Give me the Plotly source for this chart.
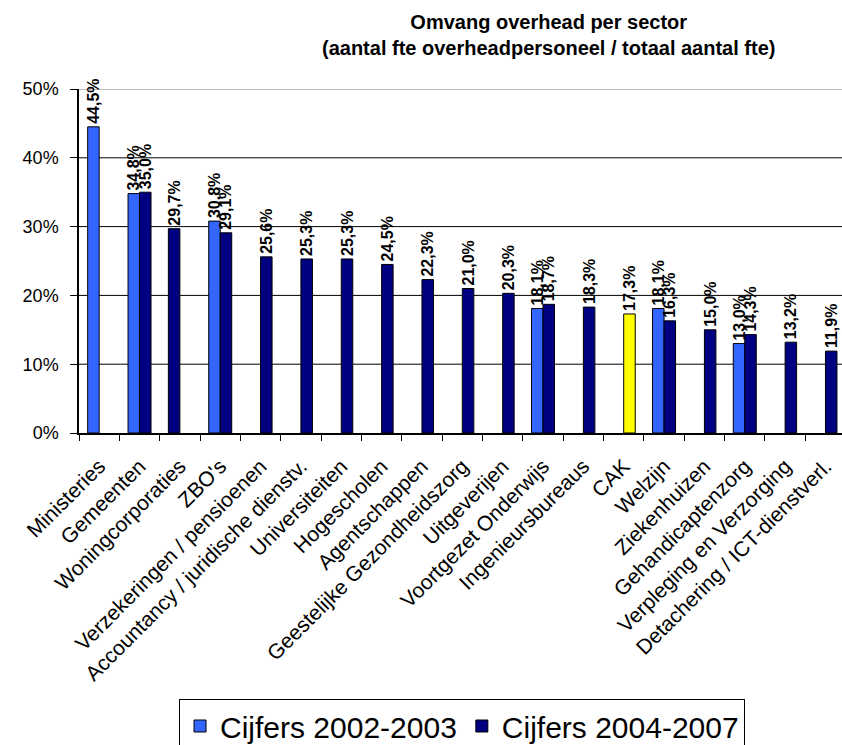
import plotly.graph_objects as go

# Sectors on the category axis
sectors = [
    "Ministeries", "Gemeenten", "Woningcorporaties", "ZBO's",
    "Verzekeringen / pensioenen", "Accountancy / juridische dienstv.",
    "Universiteiten", "Hogescholen", "Agentschappen",
    "Geestelijke Gezondheidszorg", "Uitgeverijen", "Voortgezet Onderwijs",
    "Ingenieursbureaus", "CAK", "Welzijn", "Ziekenhuizen",
    "Gehandicaptenzorg", "Verpleging en Verzorging",
    "Detachering / ICT-dienstverl.",
]

# Overhead share in percent (None = no figure for that period)
cijfers_2002_2003 = [44.5, 34.8, 29.7, 30.8, None, None, None, None, None, None,
                     None, 18.1, None, None, 18.1, None, 13.0, None, None]
cijfers_2004_2007 = [None, 35.0, None, 29.1, 25.6, 25.3, 25.3, 24.5, 22.3, 21.0,
                     20.3, 18.7, 18.3, 17.3, 16.3, 15.0, 14.3, 13.2, 11.9]

y_ticks = [0, 10, 20, 30, 40, 50]
y_tick_labels = [f"{v}%" for v in y_ticks]

LIGHT = "#3366FF"
NAVY = "#000080"
YELLOW = "#FFFF00"

colors_a = [NAVY if s == "Woningcorporaties" else LIGHT for s in sectors]
colors_b = [YELLOW if s == "CAK" else NAVY for s in sectors]

FONT = "Arial, Liberation Sans"


def pct_labels(values):
    return ["" if v is None else f"{v:.1f}%".replace(".", ",") for v in values]


label_font = dict(family=FONT, size=16, color="black", weight="bold")

fig = go.Figure()
fig.add_trace(go.Bar(
    name="Cijfers 2002-2003", x=sectors, y=cijfers_2002_2003,
    marker=dict(color=colors_a, line=dict(color="black", width=1)),
    text=pct_labels(cijfers_2002_2003), textposition="outside",
    textangle=-90, constraintext="none", cliponaxis=False,
    textfont=label_font,
))
fig.add_trace(go.Bar(
    name="Cijfers 2004-2007", x=sectors, y=cijfers_2004_2007,
    marker=dict(color=colors_b, line=dict(color="black", width=1)),
    text=pct_labels(cijfers_2004_2007), textposition="outside",
    textangle=-90, constraintext="none", cliponaxis=False,
    textfont=label_font,
))

# Horizontal gridlines; the top one (plot border at 50%) is light grey
for v in y_ticks[1:]:
    top = v == y_ticks[-1]
    fig.add_shape(type="line", xref="paper", yref="y", x0=0, x1=1, y0=v, y1=v,
                  line=dict(color="#c0c0c0" if top else "black", width=2 if top else 1),
                  layer="below")

# Two-line chart heading
fig.add_annotation(
    text="<b>Omvang overhead per sector</b><br><b>(aantal fte overheadpersoneel / totaal aantal fte)</b>",
    xref="paper", yref="paper", x=(548 - 79) / 763, xanchor="center",
    y=1 + (89 - 9) / 344, yanchor="top", showarrow=False,
    font=dict(family=FONT, size=20, color="black"), align="center",
)

fig.update_layout(
    width=842, height=745,
    paper_bgcolor="white", plot_bgcolor="white",
    barmode="group", bargap=0.43, bargroupgap=0,
    margin=dict(l=79, r=0, t=89, b=312, autoexpand=False),
    font=dict(family=FONT, color="black"),
    xaxis=dict(
        type="category", range=[-0.5, 18.41],
        showline=True, linecolor="black", linewidth=1.5,
        ticks="outside", tickson="boundaries", ticklen=6, tickcolor="black",
        tickangle=-45, tickfont=dict(size=21, color="black"),
        ticklabelstandoff=11, showgrid=False,
    ),
    yaxis=dict(
        range=[0, 50], tickvals=y_ticks, ticktext=y_tick_labels,
        showline=True, linecolor="black", linewidth=1.5,
        ticks="outside", ticklen=7, tickcolor="black",
        tickfont=dict(size=18, color="black"),
        showgrid=False, zeroline=False, ticklabelstandoff=8,
    ),
    legend=dict(
        orientation="h", x=0.502, xanchor="center",
        y=-(699 - 433) / 344, yanchor="top",
        font=dict(family=FONT, size=30, color="black"),
        bordercolor="black", borderwidth=1, bgcolor="white",
    ),
)

fig.write_html("out.html")
